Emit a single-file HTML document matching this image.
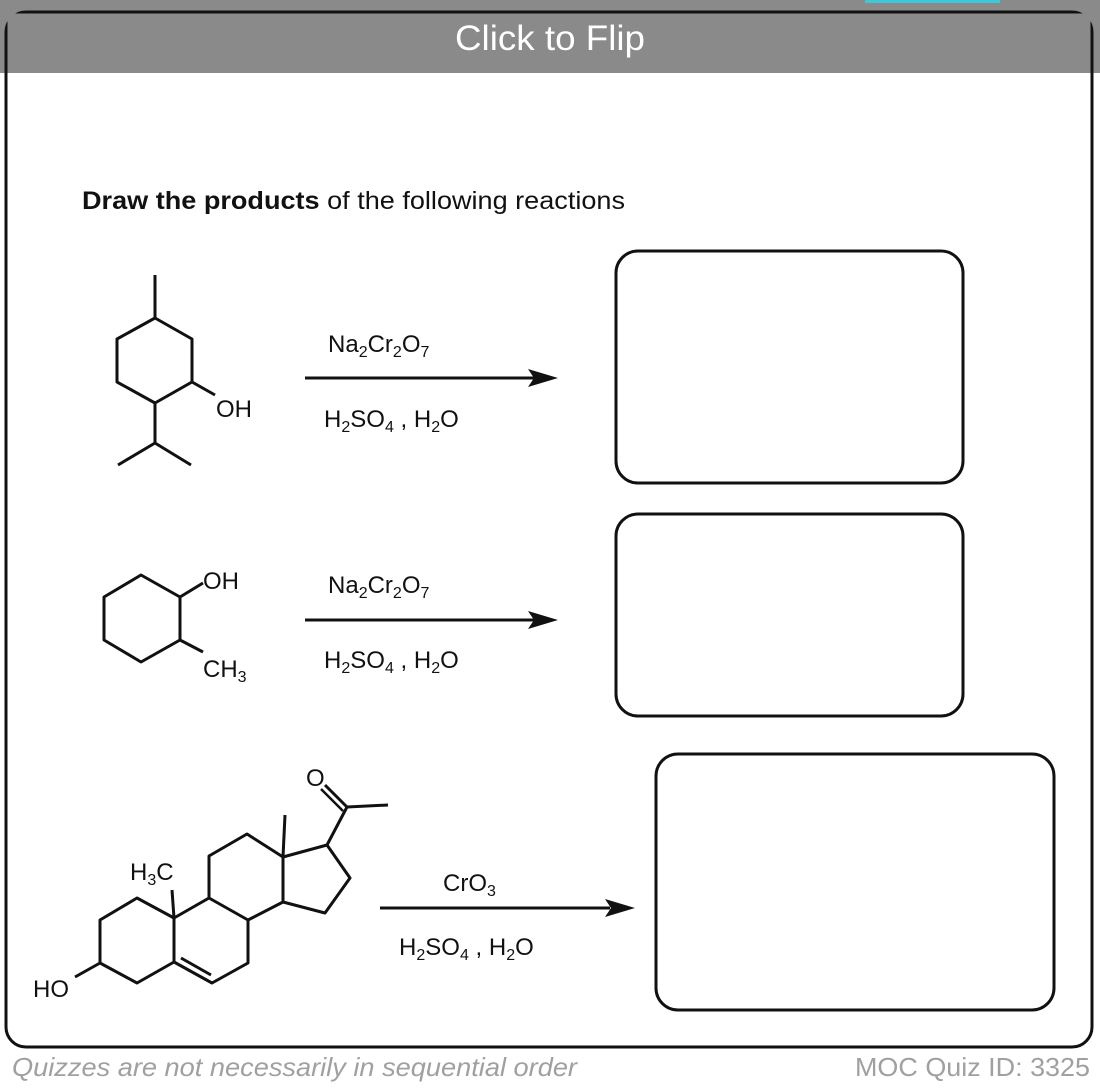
<!DOCTYPE html>
<html><head><meta charset="utf-8"><style>
html,body{margin:0;padding:0;background:#fff;width:1100px;height:1088px;overflow:hidden}
svg{display:block}
text{font-family:"Liberation Sans",Arial,sans-serif}
</style></head><body>
<svg width="1100" height="1088" viewBox="0 0 1100 1088">
<rect x="0" y="0" width="1100" height="73" fill="#8a8a8a"/>
<rect x="865" y="0" width="135" height="3" fill="#3cc8d8"/>
<rect x="6" y="12" width="1086" height="1035" rx="20" fill="none" stroke="#111" stroke-width="3"/>
<rect x="7.5" y="13.5" width="1083" height="59" fill="#8a8a8a"/>
<text x="455" y="50" font-size="35" fill="#fff" textLength="190" lengthAdjust="spacingAndGlyphs">Click to Flip</text>

<text x="82" y="209" font-size="25" fill="#111" textLength="543" lengthAdjust="spacingAndGlyphs"><tspan font-weight="bold">Draw the products</tspan> of the following reactions</text>

<g fill="none" stroke="#111" stroke-width="3" stroke-linejoin="round">
<rect x="616" y="251" width="347" height="232" rx="22"/>
<rect x="616" y="514" width="347" height="202" rx="22"/>
<rect x="656" y="754" width="398" height="256" rx="22"/>
<path d="M155 275V318L192 339V382L155 403L117 382V339L155 318M192 382L215 395M155 403V443L118 465M155 443L191 465"/>
<path d="M141 575L180 597V640L141 662L104 640V597ZM180 597L203 583M180 640L203 652"/>
<path d="M100 920L137 898L174 918V962L137 983L100 963ZM100 963L75 977M174 918L172 890M174 918L209 898L248 920V963L212 983L174 962M209 898V856L247 834L283 857V902L248 920M283 857L327 845L350 878L325 913L283 902M283 857L285 815M327 845L347 807L388 805M347 807L325 785M181 958L211 975"/>
<path d="M343 811L321 789" stroke-width="2.5"/>
<path d="M305 378H535M305 620H535M380 908H610" stroke-width="3"/>
</g>
<g fill="#111">
<path d="M558 378L528 369L534 378L528 387Z"/>
<path d="M558 620L528 611L534 620L528 629Z"/>
<path d="M635 908L605 899L611 908L605 917Z"/>
</g>
<g font-size="24" fill="#111">
<text x="216" y="417">OH</text>
<text x="203" y="589">OH</text>
<text x="203" y="677">CH<tspan font-size="16" dy="5">3</tspan></text>
<text x="33" y="997">HO</text>
<text x="130" y="880">H<tspan font-size="16" dy="5">3</tspan><tspan dy="-5">C</tspan></text>
<text x="306" y="786">O</text>
<text x="328" y="352">Na<tspan font-size="16" dy="5">2</tspan><tspan dy="-5">Cr</tspan><tspan font-size="16" dy="5">2</tspan><tspan dy="-5">O</tspan><tspan font-size="16" dy="5">7</tspan></text>
<text x="324" y="427">H<tspan font-size="16" dy="5">2</tspan><tspan dy="-5">SO</tspan><tspan font-size="16" dy="5">4</tspan><tspan dy="-5"> , H</tspan><tspan font-size="16" dy="5">2</tspan><tspan dy="-5">O</tspan></text>
<text x="328" y="593">Na<tspan font-size="16" dy="5">2</tspan><tspan dy="-5">Cr</tspan><tspan font-size="16" dy="5">2</tspan><tspan dy="-5">O</tspan><tspan font-size="16" dy="5">7</tspan></text>
<text x="324" y="668">H<tspan font-size="16" dy="5">2</tspan><tspan dy="-5">SO</tspan><tspan font-size="16" dy="5">4</tspan><tspan dy="-5"> , H</tspan><tspan font-size="16" dy="5">2</tspan><tspan dy="-5">O</tspan></text>
<text x="443" y="891">CrO<tspan font-size="16" dy="5">3</tspan></text>
<text x="399" y="955">H<tspan font-size="16" dy="5">2</tspan><tspan dy="-5">SO</tspan><tspan font-size="16" dy="5">4</tspan><tspan dy="-5"> , H</tspan><tspan font-size="16" dy="5">2</tspan><tspan dy="-5">O</tspan></text>
</g>
<text x="12" y="1076" font-size="26" font-style="italic" fill="#a0a0a0" textLength="565" lengthAdjust="spacingAndGlyphs">Quizzes are not necessarily in sequential order</text>
<text x="855" y="1076" font-size="26" fill="#a0a0a0" textLength="235" lengthAdjust="spacingAndGlyphs">MOC Quiz ID: 3325</text>
</svg>
</body></html>
